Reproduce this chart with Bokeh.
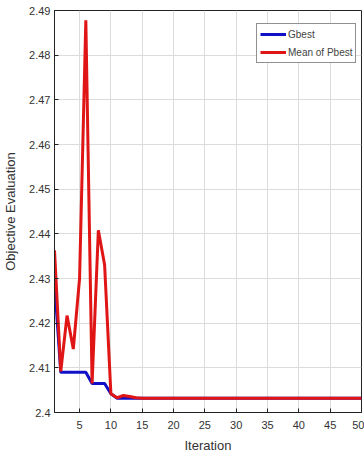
from bokeh.plotting import figure
from bokeh.models import ColumnDataSource, Legend, LegendItem, Range1d, FixedTicker, CustomJSTickFormatter
from bokeh.embed import file_html
from bokeh.resources import INLINE

iterations = list(range(1, 51))
gbest = [2.4292, 2.4090, 2.4090, 2.4090, 2.4090, 2.4090, 2.4065, 2.4065, 2.4065, 2.4042,
         2.4032] + [2.4032] * 39
mean_pbest = [2.4363, 2.4092, 2.4217, 2.4142, 2.4300, 2.4878, 2.4065, 2.4408, 2.4330, 2.4042,
              2.4033, 2.4038, 2.4036, 2.4033] + [2.4032] * 36
x_ticks = [5, 10, 15, 20, 25, 30, 35, 40, 45, 50]
y_ticks = [2.40, 2.41, 2.42, 2.43, 2.44, 2.45, 2.46, 2.47, 2.48, 2.49]

src = ColumnDataSource(dict(x=iterations, g=gbest, m=mean_pbest))

FONT = "Liberation Sans"

p = figure(width=364, height=464, output_backend="svg", toolbar_location=None,
           x_range=Range1d(1, 50), y_range=Range1d(2.40, 2.49),
           min_border_left=51, min_border_right=3, min_border_top=10, min_border_bottom=52)

p.outline_line_color = "#222222"
p.outline_line_width = 1

r_g = p.line("x", "g", source=src, line_color="#1010c8", line_width=3)
r_m = p.line("x", "m", source=src, line_color="#e01515", line_width=3)

p.xaxis.ticker = FixedTicker(ticks=x_ticks)
p.yaxis.ticker = FixedTicker(ticks=y_ticks)
p.yaxis.formatter = CustomJSTickFormatter(code="""
var s = tick.toFixed(2);
if (s.endsWith('0')) s = tick.toFixed(1);
return s;
""")

for ax in (p.xaxis[0], p.yaxis[0]):
    ax.major_tick_in = 4
    ax.major_tick_out = 0
    ax.minor_tick_in = 0
    ax.minor_tick_out = 0
    ax.axis_line_color = "#222222"
    ax.major_tick_line_color = "#222222"
    ax.major_label_text_font = FONT
    ax.major_label_text_font_size = "11px"
    ax.major_label_text_color = "#333333"
    ax.axis_label_text_font = FONT
    ax.axis_label_text_font_style = "normal"
    ax.axis_label_text_font_size = "13px"
    ax.axis_label_text_color = "#333333"

p.xaxis.axis_label = "Iteration"
p.yaxis.axis_label = "Objective Evaluation"
p.xaxis.major_label_standoff = 8
p.xaxis.axis_label_standoff = 6
p.yaxis.major_label_standoff = 4
p.yaxis.axis_label_standoff = 8

p.xgrid.grid_line_color = "#dcdcdc"
p.ygrid.grid_line_color = "#dcdcdc"

legend = Legend(items=[LegendItem(label="Gbest", renderers=[r_g]),
                       LegendItem(label="Mean of Pbest", renderers=[r_m])],
                location=(202, 349))
legend.label_text_font = FONT
legend.label_text_font_size = "10px"
legend.glyph_width = 26
legend.glyph_height = 14
legend.spacing = 4
legend.padding = 3
legend.margin = 0
legend.border_line_color = "#222222"
legend.label_standoff = 2
legend.label_height = 14
p.add_layout(legend, "center")

open("out.html", "w").write(file_html(p, INLINE))
